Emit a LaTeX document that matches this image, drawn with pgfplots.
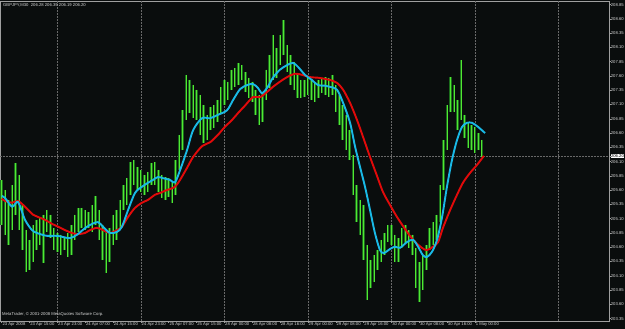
\documentclass[border=0pt]{standalone}
\usepackage{pgfplots}
\pgfplotsset{compat=1.18}
\usepackage{pgfplotstable}
\usepackage{fontspec}
\setmainfont{Liberation Sans}
\definecolor{bg}{RGB}{10,13,13}
\definecolor{gridc}{RGB}{105,105,105}
\definecolor{barDark}{RGB}{28,108,28}
\definecolor{barLime}{RGB}{80,232,50}
\definecolor{maBlue}{RGB}{25,185,230}
\definecolor{maRed}{RGB}{225,10,10}
\definecolor{txt}{RGB}{215,215,215}
\newcommand\tf{\fontsize{4.2}{4.6}\selectfont}

\pgfplotstableread[row sep=\\]{
i p\\
0 205.78\\ 0 204.99\\ 0 nan\\
2 205.60\\ 2 204.82\\ 2 nan\\
4 205.43\\ 4 204.64\\ 4 nan\\
6 205.69\\ 6 204.90\\ 6 nan\\
8 206.08\\ 8 205.17\\ 8 nan\\
10 205.87\\ 10 204.90\\ 10 nan\\
12 205.34\\ 12 204.55\\ 12 nan\\
14 204.90\\ 14 204.17\\ 14 nan\\
16 204.73\\ 16 204.20\\ 16 nan\\
18 204.99\\ 18 204.34\\ 18 nan\\
20 205.08\\ 20 204.55\\ 20 nan\\
22 205.11\\ 22 204.64\\ 22 nan\\
24 205.17\\ 24 204.32\\ 24 nan\\
26 205.25\\ 26 204.87\\ 26 nan\\
28 205.17\\ 28 204.76\\ 28 nan\\
30 204.94\\ 30 204.55\\ 30 nan\\
32 204.85\\ 32 204.52\\ 32 nan\\
34 204.82\\ 34 204.46\\ 34 nan\\
36 204.78\\ 36 204.55\\ 36 nan\\
38 204.85\\ 38 204.43\\ 38 nan\\
40 204.99\\ 40 204.46\\ 40 nan\\
42 205.17\\ 42 204.73\\ 42 nan\\
44 205.29\\ 44 204.87\\ 44 nan\\
46 205.29\\ 46 204.94\\ 46 nan\\
48 205.25\\ 48 204.90\\ 48 nan\\
50 205.22\\ 50 204.94\\ 50 nan\\
52 205.34\\ 52 204.87\\ 52 nan\\
54 205.50\\ 54 204.99\\ 54 nan\\
56 205.25\\ 56 204.73\\ 56 nan\\
58 204.99\\ 58 204.38\\ 58 nan\\
60 204.87\\ 60 204.15\\ 60 nan\\
62 204.94\\ 62 204.34\\ 62 nan\\
64 205.17\\ 64 204.64\\ 64 nan\\
66 205.25\\ 66 204.73\\ 66 nan\\
68 205.43\\ 68 204.94\\ 68 nan\\
70 205.69\\ 70 205.25\\ 70 nan\\
72 205.81\\ 72 205.34\\ 72 nan\\
74 206.09\\ 74 205.52\\ 74 nan\\
76 206.13\\ 76 205.69\\ 76 nan\\
78 206.01\\ 78 205.60\\ 78 nan\\
80 205.95\\ 80 205.57\\ 80 nan\\
82 205.87\\ 82 205.52\\ 82 nan\\
84 205.92\\ 84 205.57\\ 84 nan\\
86 206.08\\ 86 205.69\\ 86 nan\\
88 206.09\\ 88 205.69\\ 88 nan\\
90 205.95\\ 90 205.57\\ 90 nan\\
92 205.87\\ 92 205.46\\ 92 nan\\
94 205.83\\ 94 205.43\\ 94 nan\\
96 205.81\\ 96 205.48\\ 96 nan\\
98 205.74\\ 98 205.38\\ 98 nan\\
100 206.13\\ 100 205.52\\ 100 nan\\
102 206.57\\ 102 205.95\\ 102 nan\\
104 207.00\\ 104 206.30\\ 104 nan\\
106 207.62\\ 106 206.83\\ 106 nan\\
108 207.53\\ 108 206.95\\ 108 nan\\
110 207.44\\ 110 206.86\\ 110 nan\\
112 207.36\\ 112 206.83\\ 112 nan\\
114 207.27\\ 114 206.57\\ 114 nan\\
116 207.09\\ 116 206.43\\ 116 nan\\
118 206.92\\ 118 206.48\\ 118 nan\\
120 207.06\\ 120 206.65\\ 120 nan\\
122 207.09\\ 122 206.69\\ 122 nan\\
124 207.18\\ 124 206.79\\ 124 nan\\
126 207.41\\ 126 206.95\\ 126 nan\\
128 207.53\\ 128 207.09\\ 128 nan\\
130 207.50\\ 130 207.18\\ 130 nan\\
132 207.71\\ 132 207.36\\ 132 nan\\
134 207.74\\ 134 207.41\\ 134 nan\\
136 207.83\\ 136 207.44\\ 136 nan\\
138 207.79\\ 138 207.53\\ 138 nan\\
140 207.67\\ 140 207.32\\ 140 nan\\
142 207.57\\ 142 207.22\\ 142 nan\\
144 207.50\\ 144 207.15\\ 144 nan\\
146 207.36\\ 146 206.92\\ 146 nan\\
148 207.27\\ 148 206.74\\ 148 nan\\
150 207.32\\ 150 206.79\\ 150 nan\\
152 207.71\\ 152 207.18\\ 152 nan\\
154 207.97\\ 154 207.39\\ 154 nan\\
156 208.32\\ 156 207.53\\ 156 nan\\
158 208.09\\ 158 207.57\\ 158 nan\\
160 208.32\\ 160 207.79\\ 160 nan\\
162 208.58\\ 162 207.97\\ 162 nan\\
164 208.14\\ 164 207.67\\ 164 nan\\
166 207.97\\ 166 207.44\\ 166 nan\\
168 207.85\\ 168 207.36\\ 168 nan\\
170 207.62\\ 170 207.22\\ 170 nan\\
172 207.53\\ 172 207.22\\ 172 nan\\
174 207.53\\ 174 207.23\\ 174 nan\\
176 207.58\\ 176 207.27\\ 176 nan\\
178 207.53\\ 178 207.18\\ 178 nan\\
180 207.50\\ 180 207.15\\ 180 nan\\
182 207.53\\ 182 207.22\\ 182 nan\\
184 207.57\\ 184 207.30\\ 184 nan\\
186 207.58\\ 186 207.27\\ 186 nan\\
188 207.57\\ 188 207.23\\ 188 nan\\
190 207.62\\ 190 207.27\\ 190 nan\\
192 207.44\\ 192 206.97\\ 192 nan\\
194 207.27\\ 194 206.74\\ 194 nan\\
196 207.09\\ 196 206.48\\ 196 nan\\
198 206.92\\ 198 206.30\\ 198 nan\\
200 206.65\\ 200 206.13\\ 200 nan\\
202 206.22\\ 202 205.52\\ 202 nan\\
204 205.69\\ 204 205.04\\ 204 nan\\
206 205.43\\ 206 204.82\\ 206 nan\\
208 205.34\\ 208 204.38\\ 208 nan\\
210 204.64\\ 210 203.68\\ 210 nan\\
212 204.38\\ 212 203.89\\ 212 nan\\
214 204.46\\ 214 203.99\\ 214 nan\\
216 204.55\\ 216 204.20\\ 216 nan\\
218 204.73\\ 218 204.34\\ 218 nan\\
220 204.85\\ 220 204.46\\ 220 nan\\
222 204.99\\ 222 204.69\\ 222 nan\\
224 204.99\\ 224 204.64\\ 224 nan\\
226 204.82\\ 226 204.34\\ 226 nan\\
228 204.76\\ 228 204.34\\ 228 nan\\
230 204.94\\ 230 204.59\\ 230 nan\\
232 204.99\\ 232 204.67\\ 232 nan\\
234 204.90\\ 234 204.59\\ 234 nan\\
236 204.82\\ 236 204.46\\ 236 nan\\
238 204.59\\ 238 203.89\\ 238 nan\\
240 204.34\\ 240 203.64\\ 240 nan\\
242 204.46\\ 242 203.85\\ 242 nan\\
244 204.64\\ 244 204.20\\ 244 nan\\
246 204.94\\ 246 204.55\\ 246 nan\\
248 205.04\\ 248 204.64\\ 248 nan\\
250 205.17\\ 250 204.73\\ 250 nan\\
252 205.69\\ 252 205.04\\ 252 nan\\
254 206.48\\ 254 205.60\\ 254 nan\\
256 207.09\\ 256 206.30\\ 256 nan\\
258 207.58\\ 258 206.97\\ 258 nan\\
260 207.44\\ 260 206.97\\ 260 nan\\
262 207.18\\ 262 206.65\\ 262 nan\\
264 207.88\\ 264 206.83\\ 264 nan\\
266 206.92\\ 266 206.51\\ 266 nan\\
268 206.79\\ 268 206.34\\ 268 nan\\
270 206.74\\ 270 206.30\\ 270 nan\\
272 206.71\\ 272 206.25\\ 272 nan\\
274 206.60\\ 274 206.30\\ 274 nan\\
276 206.48\\ 276 206.18\\ 276 nan\\
}\bars

\pgfplotstableread[row sep=\\]{
i p\\
0 205.50\\ 2 205.46\\ 6 205.31\\ 9.4 205.39\\ 13.4 205.08\\ 17.4 204.90\\
20.3 204.85\\ 23.2 204.82\\ 26 204.80\\ 31.8 204.80\\ 35.2 204.78\\ 39.3 204.76\\
43.3 204.82\\ 47.3 204.92\\ 50.7 204.99\\ 55.3 205.04\\ 58.2 204.96\\ 62.2 204.85\\
66.3 204.87\\ 69.1 204.96\\ 72.6 205.25\\ 76.6 205.55\\ 80.6 205.66\\ 84.1 205.73\\
87 205.78\\ 89.8 205.83\\ 92.7 205.81\\ 96.7 205.78\\ 99.6 205.74\\ 102.5 205.95\\
106.5 206.30\\ 110 206.65\\ 115.1 206.86\\ 119.8 206.86\\ 124.3 206.92\\ 129.5 207.00\\
133 207.18\\ 137 207.37\\ 141 207.44\\ 144.4 207.46\\ 147.3 207.39\\ 149.6 207.30\\
152.5 207.39\\ 155.9 207.57\\ 159.9 207.71\\ 164 207.79\\ 167.4 207.83\\ 170.3 207.76\\
174.3 207.62\\ 178.3 207.53\\ 181.8 207.44\\ 185.8 207.43\\ 188.7 207.41\\ 192.7 207.36\\
196.2 207.13\\ 200.2 206.78\\ 203.1 206.36\\ 205.9 206.01\\ 208.8 205.66\\ 211.7 205.25\\
214.5 204.85\\ 217.4 204.55\\ 219.7 204.50\\ 223.2 204.57\\ 226 204.61\\ 228.9 204.59\\
232.9 204.69\\ 236.4 204.73\\ 239.3 204.61\\ 242.1 204.46\\ 244.4 204.43\\ 247.3 204.52\\
250.2 204.73\\ 253.1 205.13\\ 255.9 205.66\\ 258.8 206.13\\ 261.7 206.48\\ 264.6 206.71\\
267.4 206.78\\ 270.3 206.78\\ 273.7 206.71\\ 277.8 206.60\\
}\fastma

\pgfplotstableread[row sep=\\]{
i p\\
0 205.45\\ 2 205.41\\ 6 205.38\\ 9.4 205.41\\ 13.4 205.31\\ 18 205.17\\
20.9 205.13\\ 24.9 205.08\\ 28.9 205.01\\ 32.4 204.96\\ 36.4 204.90\\ 40.4 204.85\\
43.9 204.83\\ 47.9 204.85\\ 50.7 204.90\\ 54.8 204.94\\ 58.2 204.90\\ 62.2 204.85\\
66.3 204.90\\ 69.1 204.96\\ 72.6 205.13\\ 76.6 205.29\\ 80.6 205.38\\ 84.1 205.43\\
88.1 205.52\\ 91 205.55\\ 93.9 205.59\\ 96.7 205.62\\ 99.6 205.66\\ 102.5 205.78\\
106.5 205.99\\ 110 206.18\\ 115.1 206.37\\ 119.8 206.44\\ 124.3 206.57\\ 128.3 206.71\\
132.4 206.83\\ 135.8 206.95\\ 139.8 207.08\\ 144.4 207.23\\ 148.5 207.23\\ 152.5 207.32\\
155.9 207.41\\ 159.9 207.50\\ 164 207.58\\ 168.6 207.64\\ 172.6 207.62\\ 177.2 207.58\\
181.8 207.57\\ 185.8 207.55\\ 188.7 207.53\\ 192.7 207.48\\ 196.2 207.36\\ 200.2 207.13\\
204.2 206.83\\ 207.7 206.53\\ 211.7 206.18\\ 215.7 205.85\\ 219.1 205.57\\ 223.2 205.34\\
227.2 205.13\\ 231.8 204.92\\ 236.4 204.73\\ 241.5 204.59\\ 244.4 204.55\\
247.9 204.61\\ 250.8 204.69\\ 253.6 204.94\\ 257.7 205.25\\ 261.7 205.52\\ 265.1 205.73\\
269.1 205.90\\ 273.1 206.04\\ 277.1 206.20\\
}\slowma

\begin{document}
\begin{tikzpicture}
\fill[bg] (0pt,-8pt) rectangle (625pt,321pt);
\useasboundingbox (0pt,-8pt) rectangle (625pt,321pt);
\begin{axis}[
  at={(0pt,0pt)}, anchor=south west,
  width=609pt, height=320pt, scale only axis,
  xmin=-0.98, xmax=349.03, ymin=203.308, ymax=208.914,
  axis line style={draw=gray!75, line width=0.6pt},
  tick align=outside, major tick length=2pt,
  tick style={draw=gray!75, line width=0.5pt},
  xtick pos=bottom, ytick pos=right, yticklabel pos=right,
  xtick={0,16,...,272},
  xticklabels={23 Apr 2008,23 Apr 15:00,23 Apr 23:00,24 Apr 07:00,24 Apr 15:00,24 Apr 23:00,25 Apr 07:00,25 Apr 15:00,28 Apr 00:00,28 Apr 08:00,28 Apr 16:00,29 Apr 00:00,29 Apr 08:00,29 Apr 16:00,30 Apr 00:00,30 Apr 08:00,30 Apr 16:00,1 May 00:00},
  x tick label style={font=\tf, text=txt, anchor=north west, inner sep=0.4pt, xshift=0.2pt, yshift=0.6pt},
  ytick={203.35,203.60,203.85,204.10,204.35,204.60,204.85,205.10,205.35,205.60,205.85,206.10,206.35,206.60,206.85,207.10,207.35,207.60,207.85,208.10,208.35,208.60,208.85},
  scaled y ticks=false,
  y tick label style={font=\tf, text=txt, anchor=west, inner sep=0.3pt, xshift=-0.6pt,
    /pgf/number format/fixed, /pgf/number format/fixed zerofill,
    /pgf/number format/precision=2, /pgf/number format/assume math mode=true},
  major grid style={gridc, line width=0.6pt, dash pattern=on 1.5pt off 1.5pt},
  extra x ticks={32,80,128,176,224,272,320},
  extra x tick labels={},
  extra x tick style={grid=major, major tick length=0pt},
  extra y ticks={206.20},
  extra y tick style={grid=major, y tick label style={/tikz/fill=white, /tikz/text=black, /tikz/inner sep=0.4pt}},
  unbounded coords=jump,
  clip=true,
]
\addplot[barDark, line width=2.5pt, line cap=butt] table[x=i,y=p]{\bars};
\addplot[barLime, line width=1.0pt, line cap=butt] table[x=i,y=p]{\bars};
\addplot[maRed, line width=1.9pt, smooth] table[x=i,y=p]{\slowma};
\addplot[maBlue, line width=1.9pt, smooth] table[x=i,y=p]{\fastma};
\node[anchor=north west, font=\tf, text=txt, inner sep=0pt] at (rel axis cs:0,1) [xshift=3pt, yshift=-2.5pt] {GBPJPY,M30\ \ 206.28 206.39 206.19 206.20};
\node[anchor=south west, font=\tf, text=txt, inner sep=0pt] at (rel axis cs:0,0) [xshift=2pt, yshift=4pt] {MetaTrader, \textcopyright{} 2001-2008 MetaQuotes Software Corp.};
\end{axis}
\end{tikzpicture}
\end{document}
